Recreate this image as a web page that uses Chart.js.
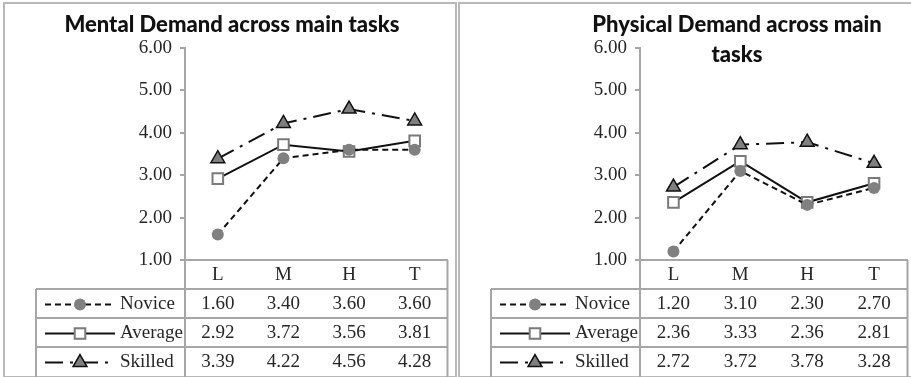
<!DOCTYPE html>
<html lang="en">
<head>
<meta charset="UTF-8">
<title>Mental and Physical Demand across main tasks</title>
<script src="https://cdn.jsdelivr.net/npm/chart.js"></script>
<style>
  body { margin: 0; background: #fff; overflow: hidden; width: 911px; height: 377px; position: relative; }
  .panel { position: absolute; top: 2px; height: 376px; box-sizing: border-box; border: 2px solid #b8b8b8; }
  canvas { position: absolute; top: 0; }
</style>
</head>
<body>
<div class="panel" style="left:3px; width:454px;"></div>
<div class="panel" style="left:458px; width:500px;"></div>
<canvas id="mental" width="457" height="377" style="left:0"></canvas>
<canvas id="physical" width="462" height="377" style="left:455px"></canvas>

<script>
// data
var categories = ['L', 'M', 'H', 'T'];
var seriesNames = ['Novice', 'Average', 'Skilled'];

var mentalNovice  = [1.60, 3.40, 3.60, 3.60];
var mentalAverage = [2.92, 3.72, 3.56, 3.81];
var mentalSkilled = [3.39, 4.22, 4.56, 4.28];

var physicalNovice  = [1.20, 3.10, 2.30, 2.70];
var physicalAverage = [2.36, 3.33, 2.36, 2.81];
var physicalSkilled = [2.72, 3.72, 3.78, 3.28];

var yMin = 1, yMax = 6, yStep = 1;

var mentalTitle = ['Mental Demand across main tasks'];
var physicalTitle = ['Physical Demand across main', 'tasks'];

var serif = '"Times New Roman", "Liberation Serif", serif';
var gridColor = '#a6a6a6';
var textColor = '#262626';

// look of each series: dashed+circle, solid+square, dash-dot+triangle
var styles = [
  { borderDash: [6, 4], pointStyle: 'circle', pointRadius: 6, pointBackgroundColor: '#808080', pointBorderColor: '#808080', pointBorderWidth: 0 },
  { borderDash: [], pointStyle: 'rect', pointRadius: 7.5, pointBackgroundColor: '#ffffff', pointBorderColor: '#7a7a7a', pointBorderWidth: 2 },
  { borderDash: [18, 7, 3, 7], pointStyle: 'triangle', pointRadius: 8, pointBackgroundColor: '#7f7f7f', pointBorderColor: '#111111', pointBorderWidth: 1.5 }
];

function makeDatasets(values) {
  return values.map(function(v, i) {
    return Object.assign({
      label: seriesNames[i],
      data: v,
      borderColor: '#111111',
      borderWidth: 2,
      tension: 0,
      fill: false
    }, styles[i]);
  });
}

function drawMarker(ctx, ds, x, y) {
  ctx.save();
  ctx.fillStyle = ds.pointBackgroundColor;
  ctx.strokeStyle = ds.pointBorderColor;
  ctx.lineWidth = ds.pointBorderWidth;
  ctx.setLineDash([]);
  if (Chart.helpers && Chart.helpers.drawPoint) {
    Chart.helpers.drawPoint(ctx, { pointStyle: ds.pointStyle, radius: ds.pointRadius, rotation: 0, borderWidth: ds.pointBorderWidth }, x, y);
  } else {
    ctx.beginPath();
    ctx.arc(x, y, ds.pointRadius, 0, Math.PI * 2);
    ctx.fill();
    if (ds.pointBorderWidth) ctx.stroke();
  }
  ctx.restore();
}

// title text drawn over the top of the panel (second line sits inside the plot)
var titlePlugin = {
  id: 'panelTitle',
  afterDraw: function(chart, args, opts) {
    var ctx = chart.ctx;
    ctx.save();
    ctx.font = '900 22px Lato, "Open Sans", sans-serif';
    ctx.fillStyle = '#111111';
    ctx.textAlign = 'center';
    ctx.textBaseline = 'alphabetic';
    opts.lines.forEach(function(t, i) {
      ctx.fillText(t, opts.x, 32 + i * 30);
    });
    ctx.restore();
  }
};

// Excel-like data table under the x axis
var tablePlugin = {
  id: 'dataTable',
  afterDraw: function(chart) {
    var ctx = chart.ctx;
    var a = chart.chartArea;
    var x = chart.scales.x;
    var H = chart.height;
    var tl = a.left - 149;
    var rowH = 29;
    var top = a.bottom + 29;

    ctx.save();
    ctx.strokeStyle = gridColor;
    ctx.lineWidth = 2;
    ctx.beginPath();
    for (var r = 0; r < 3; r++) {
      ctx.moveTo(tl, top + r * rowH);
      ctx.lineTo(a.right, top + r * rowH);
    }
    ctx.moveTo(tl, top); ctx.lineTo(tl, H);
    ctx.moveTo(a.left, a.bottom); ctx.lineTo(a.left, H);
    ctx.moveTo(a.right, a.bottom); ctx.lineTo(a.right, H);
    ctx.stroke();

    ctx.font = '19px ' + serif;
    ctx.fillStyle = textColor;
    ctx.textBaseline = 'middle';
    chart.data.datasets.forEach(function(ds, r) {
      var cy = top + r * rowH + rowH / 2 + 1;
      // legend key
      ctx.save();
      ctx.strokeStyle = ds.borderColor;
      ctx.lineWidth = ds.borderWidth;
      ctx.setLineDash(ds.borderDash);
      ctx.beginPath();
      ctx.moveTo(tl + 9, cy);
      ctx.lineTo(tl + 79, cy);
      ctx.stroke();
      ctx.restore();
      drawMarker(ctx, ds, tl + 44, cy);
      ctx.textAlign = 'left';
      ctx.fillText(ds.label, tl + 84, cy);
      // values
      ctx.textAlign = 'center';
      ds.data.forEach(function(v, i) {
        ctx.fillText(v.toFixed(2), x.getPixelForValue(i), cy);
      });
    });
    ctx.restore();
  }
};

function makeChart(id, values, title, titleX) {
  var ctx = document.getElementById(id).getContext('2d');
  return new Chart(ctx, {
    type: 'line',
    data: { labels: categories, datasets: makeDatasets(values) },
    options: {
      responsive: false,
      animation: false,
      layout: { padding: { top: 48, bottom: 0, left: 0, right: 0 } },
      scales: {
        x: {
          offset: true,
          afterFit: function(s) { s.height = 117; },
          grid: { display: true, drawOnChartArea: false, drawTicks: false },
          border: { display: true, color: gridColor, width: 2 },
          ticks: { color: textColor, font: { family: serif, size: 19 }, padding: 4 }
        },
        y: {
          min: yMin,
          max: yMax,
          afterFit: function(s) { s.width = 185; },
          grid: { drawOnChartArea: false, drawTicks: true, tickLength: 5, color: gridColor, lineWidth: 2 },
          border: { display: true, color: gridColor, width: 2 },
          ticks: {
            stepSize: yStep,
            color: textColor,
            padding: 8,
            font: { family: serif, size: 19 },
            callback: function(v) { return v.toFixed(2); }
          }
        }
      },
      plugins: {
        legend: { display: false },
        tooltip: { enabled: false },
        panelTitle: { lines: title, x: titleX }
      }
    },
    plugins: [tablePlugin, titlePlugin]
  });
}

makeChart('mental', [mentalNovice, mentalAverage, mentalSkilled], mentalTitle, 232);
makeChart('physical', [physicalNovice, physicalAverage, physicalSkilled], physicalTitle, 282);
</script>
</body>
</html>
